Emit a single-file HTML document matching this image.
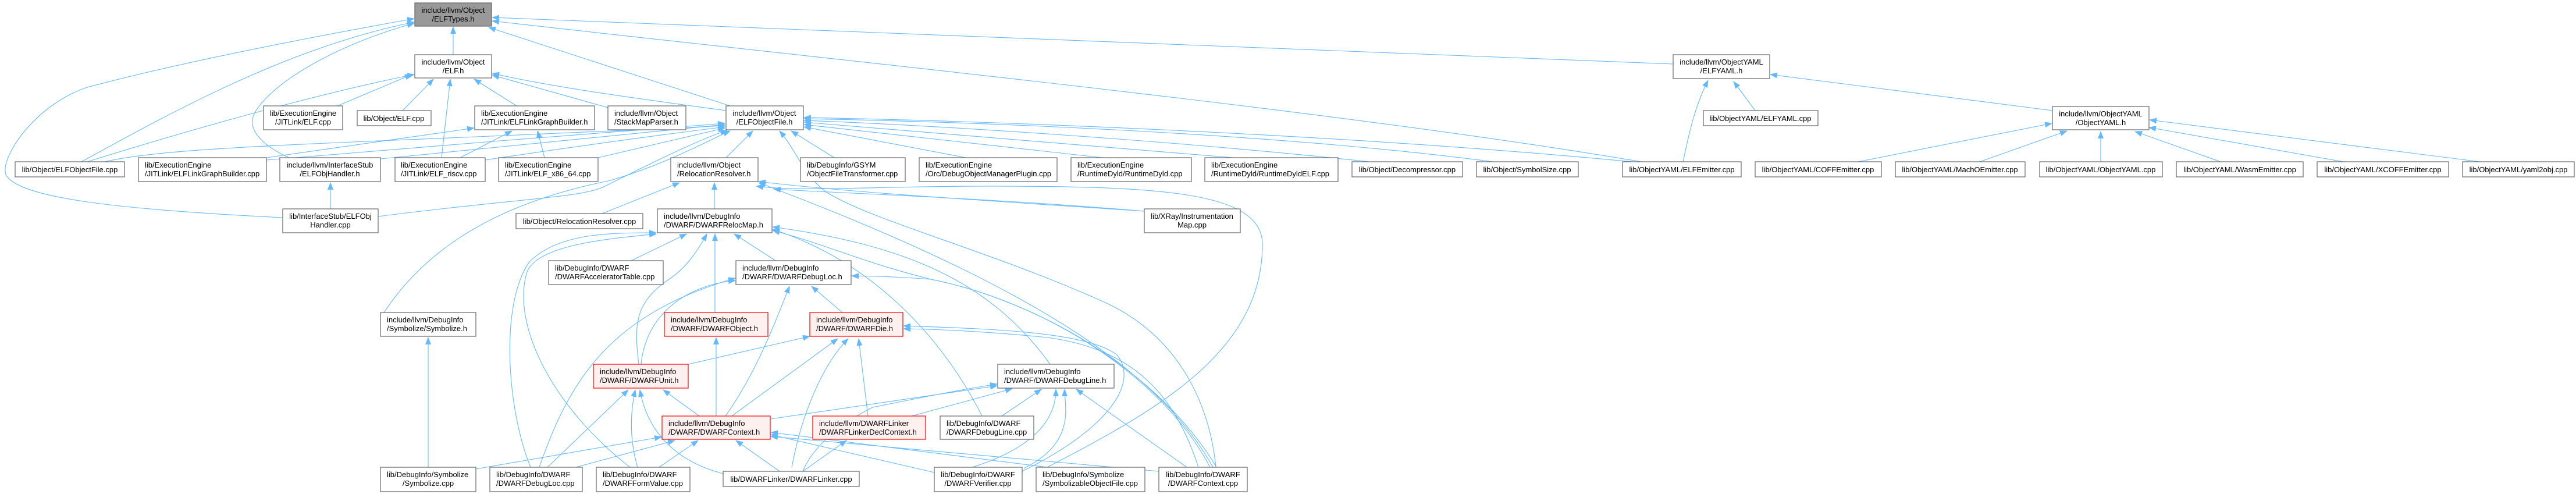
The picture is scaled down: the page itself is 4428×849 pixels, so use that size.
<!DOCTYPE html>
<html><head><meta charset="utf-8"><style>
html,body{margin:0;padding:0;background:#fff;}
svg{display:block;font-family:"Liberation Sans",Arial,sans-serif;font-size:13px;}
.n{fill:#fff;stroke:#666;stroke-width:1.2}
.r{fill:#fff0f0;stroke:#f00;stroke-width:1.2}
.g{fill:#999;stroke:#666;stroke-width:1.2}
.e{fill:none;stroke:#63b8ff;stroke-width:1.1;marker-end:url(#a)}
text{fill:#000}
</style></head><body>
<svg width="4428" height="849" viewBox="0 0 4428 849" xmlns="http://www.w3.org/2000/svg">
<defs><marker id="a" markerWidth="13" markerHeight="10" refX="12" refY="5" orient="auto" markerUnits="userSpaceOnUse"><path d="M0,0 L13,5 L0,10z" fill="#63b8ff"/></marker></defs>

<!-- edges to ELFTypes.h -->
<path class="e" d="M779,94 L779,46"/>
<path class="e" d="M140,278 C300,190 500,80 712,38"/>
<path class="e" d="M486,374 C200,360 30,340 10,300 C0,270 60,180 150,150 C300,110 500,70 712,32"/>
<path class="e" d="M497,271 C450,250 420,220 440,190 C480,130 600,70 712,40"/>
<path class="e" d="M1255,182 L840,47"/>
<path class="e" d="M2876,110 C2000,80 1300,50 846,30"/>
<path class="e" d="M2821,278 C2300,190 1500,110 846,36"/>

<!-- edges to ELF.h -->
<path class="e" d="M580,182 L708,128"/>
<path class="e" d="M692,190 L745,136"/>
<path class="e" d="M150,278 C400,200 600,150 712,128"/>
<path class="e" d="M759,271 L774,136"/>
<path class="e" d="M888,182 L815,136"/>
<path class="e" d="M1045,185 L846,129"/>
<path class="e" d="M1248,190 C1100,170 950,150 846,126"/>

<!-- edges to ELFLinkGraphBuilder.h -->
<path class="e" d="M458,271 L815,220"/>
<path class="e" d="M791,271 L880,225"/>
<path class="e" d="M936,271 L924,225"/>

<!-- edges to ELFObjectFile.h -->
<path class="e" d="M180,278 C300,250 600,247 1246,216"/>
<path class="e" d="M458,275 C700,255 1000,230 1246,212"/>
<path class="e" d="M654,273 C900,250 1100,230 1246,214"/>
<path class="e" d="M834,275 C1000,250 1150,230 1246,218"/>
<path class="e" d="M1028,271 L1246,220"/>
<path class="e" d="M650,372 C900,340 1000,340 1040,320 C1100,290 1200,240 1250,224"/>
<path class="e" d="M660,537 C750,400 900,340 1050,310 C1150,280 1220,240 1255,225"/>
<path class="e" d="M1248,271 L1294,225"/>
<path class="e" d="M1434,271 L1360,225"/>
<path class="e" d="M1660,271 L1382,218"/>
<path class="e" d="M1895,271 L1382,214"/>
<path class="e" d="M2120,271 L1382,210"/>
<path class="e" d="M2354,278 C2000,240 1600,215 1382,207"/>
<path class="e" d="M2566,278 C2200,230 1700,210 1382,204"/>
<path class="e" d="M2805,278 C2300,230 1700,208 1382,202"/>
<path class="e" d="M1967,363 C1700,340 1400,330 1330,325"/>
<path class="e" d="M1800,803 C2000,700 2170,600 2170,420 C2170,330 2000,320 1700,320 C1500,320 1380,330 1300,320"/>
<path class="e" d="M2090,803 C2080,700 2030,580 1900,520 C1700,430 1500,380 1420,330 C1380,300 1370,260 1340,225"/>

<!-- RelocationResolver.h -->
<path class="e" d="M1035,367 L1168,314"/>
<path class="e" d="M1228,359 L1228,314"/>
<path class="e" d="M1967,363 C1700,345 1450,330 1304,312"/>
<path class="e" d="M2085,803 C2000,650 1800,500 1304,314"/>

<!-- DWARFRelocMap.h -->
<path class="e" d="M1085,448 L1180,402"/>
<path class="e" d="M1333,448 L1262,402"/>
<path class="e" d="M1229,537 L1229,402"/>
<path class="e" d="M1098,626 C1090,560 1090,520 1150,480 C1180,460 1200,430 1215,402"/>
<path class="e" d="M912,803 C870,700 860,520 910,450 C960,400 1050,400 1128,400"/>
<path class="e" d="M1083,803 C950,700 880,560 905,470 C920,420 1050,410 1128,402"/>
<path class="e" d="M1805,626 C1700,480 1550,420 1328,390"/>
<path class="e" d="M1688,715 C1620,580 1500,450 1328,394"/>
<path class="e" d="M2091,803 C2000,650 1800,520 1600,480 C1480,450 1420,420 1328,396"/>

<!-- DWARFDebugLoc.h -->
<path class="e" d="M1102,626 C1110,540 1180,490 1264,482"/>
<path class="e" d="M927,803 C980,650 1050,540 1264,478"/>
<path class="e" d="M1247,715 C1300,640 1330,560 1357,492"/>
<path class="e" d="M1448,537 L1395,492"/>
<path class="e" d="M2080,803 C2000,650 1800,520 1600,480 C1540,475 1500,475 1464,474"/>

<!-- DWARFObject.h -->
<path class="e" d="M1231,715 L1231,580"/>

<!-- DWARFDie.h -->
<path class="e" d="M1183,626 L1392,578"/>
<path class="e" d="M1258,715 L1440,582"/>
<path class="e" d="M1361,803 C1380,700 1420,620 1458,582"/>
<path class="e" d="M1492,715 L1476,582"/>
<path class="e" d="M1757,810 C1900,740 1960,660 1920,610 C1870,570 1700,565 1553,560"/>
<path class="e" d="M2060,803 C2020,680 1950,600 1800,580 C1700,570 1620,566 1553,565"/>

<!-- DWARFUnit.h -->
<path class="e" d="M1202,715 L1140,670"/>
<path class="e" d="M941,803 L1080,670"/>
<path class="e" d="M1096,803 C1080,750 1085,700 1092,670"/>
<path class="e" d="M1243,814 C1150,790 1110,730 1100,670"/>

<!-- DWARFContext.h -->
<path class="e" d="M818,806 L1137,751"/>
<path class="e" d="M990,803 L1160,757"/>
<path class="e" d="M1133,803 L1200,757"/>
<path class="e" d="M1340,810 L1265,757"/>
<path class="e" d="M1606,812 L1325,747"/>
<path class="e" d="M1800,803 L1325,743"/>
<path class="e" d="M1992,810 L1325,750"/>

<!-- LinkerDeclContext -->
<path class="e" d="M1380,810 L1455,757"/>

<!-- DWARFDebugLine.h -->
<path class="e" d="M1325,720 L1714,663"/>
<path class="e" d="M1567,715 L1740,668"/>
<path class="e" d="M1722,715 L1790,669"/>
<path class="e" d="M1606,820 C1700,800 1815,760 1815,669"/>
<path class="e" d="M1760,805 C1850,760 1830,700 1830,669"/>
<path class="e" d="M2040,803 L1850,669"/>
<path class="e" d="M1380,810 C1400,760 1460,720 1500,700 C1600,680 1650,670 1714,660"/>

<!-- Symbolize, ELFObjHandler -->
<path class="e" d="M736,803 L736,580"/>
<path class="e" d="M568,359 L568,314"/>

<!-- YAML -->
<path class="e" d="M2893,278 C2905,220 2915,180 2936,138"/>
<path class="e" d="M3017,190 L2980,140"/>
<path class="e" d="M3528,190 L3043,128"/>
<path class="e" d="M3194,278 L3527,212"/>
<path class="e" d="M3403,278 L3553,225"/>
<path class="e" d="M3611,278 L3611,226"/>
<path class="e" d="M3817,278 L3670,226"/>
<path class="e" d="M4028,278 L3694,219"/>
<path class="e" d="M4263,278 L3695,206"/>

<!-- nodes -->
<g>
<rect class="g" x="713" y="5" width="132" height="40"/><text x="779" y="22" text-anchor="middle">include/llvm/Object</text><text x="779" y="37" text-anchor="middle">/ELFTypes.h</text>
<rect class="n" x="713" y="94" width="132" height="40"/><text x="779" y="111" text-anchor="middle">include/llvm/Object</text><text x="779" y="126" text-anchor="middle">/ELF.h</text>
<rect class="n" x="453" y="182" width="136" height="41"/><text x="521" y="199" text-anchor="middle">lib/ExecutionEngine</text><text x="521" y="214" text-anchor="middle">/JITLink/ELF.cpp</text>
<rect class="n" x="614" y="190" width="127" height="26"/><text x="677" y="208" text-anchor="middle">lib/Object/ELF.cpp</text>
<rect class="n" x="26" y="278" width="188" height="26"/><text x="120" y="296" text-anchor="middle">lib/Object/ELFObjectFile.cpp</text>
<rect class="n" x="238" y="271" width="220" height="41"/><text x="249" y="288">lib/ExecutionEngine</text><text x="249" y="303">/JITLink/ELFLinkGraphBuilder.cpp</text>
<rect class="n" x="481" y="271" width="173" height="41"/><text x="567" y="288" text-anchor="middle">include/llvm/InterfaceStub</text><text x="567" y="303" text-anchor="middle">/ELFObjHandler.h</text>
<rect class="n" x="679" y="271" width="155" height="41"/><text x="689" y="288">lib/ExecutionEngine</text><text x="689" y="303">/JITLink/ELF_riscv.cpp</text>
<rect class="n" x="486" y="359" width="164" height="41"/><text x="568" y="376" text-anchor="middle">lib/InterfaceStub/ELFObj</text><text x="568" y="391" text-anchor="middle">Handler.cpp</text>
<rect class="n" x="654" y="537" width="164" height="41"/><text x="665" y="554">include/llvm/DebugInfo</text><text x="665" y="569">/Symbolize/Symbolize.h</text>
<rect class="n" x="654" y="803" width="164" height="42"/><text x="665" y="820">lib/DebugInfo/Symbolize</text><text x="736" y="835" text-anchor="middle">/Symbolize.cpp</text>
<rect class="n" x="816" y="182" width="206" height="41"/><text x="827" y="199">lib/ExecutionEngine</text><text x="827" y="214">/JITLink/ELFLinkGraphBuilder.h</text>
<rect class="n" x="1045" y="182" width="134" height="41"/><text x="1056" y="199">include/llvm/Object</text><text x="1056" y="214">/StackMapParser.h</text>
<rect class="n" x="1248" y="182" width="133" height="41"/><text x="1314" y="199" text-anchor="middle">include/llvm/Object</text><text x="1314" y="214" text-anchor="middle">/ELFObjectFile.h</text>
<rect class="n" x="857" y="271" width="171" height="41"/><text x="868" y="288">lib/ExecutionEngine</text><text x="868" y="303">/JITLink/ELF_x86_64.cpp</text>
<rect class="n" x="1153" y="271" width="150" height="41"/><text x="1164" y="288">include/llvm/Object</text><text x="1164" y="303">/RelocationResolver.h</text>
<rect class="n" x="1376" y="271" width="180" height="41"/><text x="1387" y="288">lib/DebugInfo/GSYM</text><text x="1387" y="303">/ObjectFileTransformer.cpp</text>
<rect class="n" x="887" y="367" width="218" height="26"/><text x="996" y="385" text-anchor="middle">lib/Object/RelocationResolver.cpp</text>
<rect class="n" x="1130" y="359" width="197" height="41"/><text x="1141" y="376">include/llvm/DebugInfo</text><text x="1141" y="391">/DWARF/DWARFRelocMap.h</text>
<rect class="n" x="943" y="448" width="197" height="41"/><text x="954" y="465">lib/DebugInfo/DWARF</text><text x="954" y="480">/DWARFAcceleratorTable.cpp</text>
<rect class="n" x="1265" y="448" width="198" height="41"/><text x="1276" y="465">include/llvm/DebugInfo</text><text x="1276" y="480">/DWARF/DWARFDebugLoc.h</text>
<rect class="r" x="1142" y="537" width="178" height="41"/><text x="1153" y="554">include/llvm/DebugInfo</text><text x="1153" y="569">/DWARF/DWARFObject.h</text>
<rect class="r" x="1392" y="537" width="160" height="41"/><text x="1403" y="554">include/llvm/DebugInfo</text><text x="1403" y="569">/DWARF/DWARFDie.h</text>
<rect class="r" x="1020" y="626" width="163" height="41"/><text x="1031" y="643">include/llvm/DebugInfo</text><text x="1031" y="658">/DWARF/DWARFUnit.h</text>
<rect class="r" x="1138" y="715" width="186" height="40"/><text x="1149" y="732">include/llvm/DebugInfo</text><text x="1149" y="747">/DWARF/DWARFContext.h</text>
<rect class="r" x="1397" y="715" width="194" height="40"/><text x="1408" y="732">include/llvm/DWARFLinker</text><text x="1408" y="747">/DWARFLinkerDeclContext.h</text>
<rect class="n" x="842" y="803" width="159" height="42"/><text x="853" y="820">lib/DebugInfo/DWARF</text><text x="853" y="835">/DWARFDebugLoc.cpp</text>
<rect class="n" x="1025" y="803" width="161" height="42"/><text x="1036" y="820">lib/DebugInfo/DWARF</text><text x="1036" y="835">/DWARFFormValue.cpp</text>
<rect class="n" x="1243" y="810" width="234" height="26"/><text x="1360" y="828" text-anchor="middle">lib/DWARFLinker/DWARFLinker.cpp</text>
<rect class="n" x="1580" y="271" width="237" height="41"/><text x="1591" y="288">lib/ExecutionEngine</text><text x="1591" y="303">/Orc/DebugObjectManagerPlugin.cpp</text>
<rect class="n" x="1841" y="271" width="207" height="41"/><text x="1852" y="288">lib/ExecutionEngine</text><text x="1852" y="303">/RuntimeDyld/RuntimeDyld.cpp</text>
<rect class="n" x="2071" y="271" width="229" height="41"/><text x="2082" y="288">lib/ExecutionEngine</text><text x="2082" y="303">/RuntimeDyld/RuntimeDyldELF.cpp</text>
<rect class="n" x="1967" y="359" width="165" height="41"/><text x="2049" y="376" text-anchor="middle">lib/XRay/Instrumentation</text><text x="2049" y="391" text-anchor="middle">Map.cpp</text>
<rect class="n" x="1715" y="626" width="200" height="41"/><text x="1726" y="643">include/llvm/DebugInfo</text><text x="1726" y="658">/DWARF/DWARFDebugLine.h</text>
<rect class="n" x="1616" y="715" width="161" height="40"/><text x="1627" y="732">lib/DebugInfo/DWARF</text><text x="1627" y="747">/DWARFDebugLine.cpp</text>
<rect class="n" x="1606" y="803" width="151" height="42"/><text x="1681" y="820" text-anchor="middle">lib/DebugInfo/DWARF</text><text x="1681" y="835" text-anchor="middle">/DWARFVerifier.cpp</text>
<rect class="n" x="1781" y="803" width="187" height="42"/><text x="1792" y="820">lib/DebugInfo/Symbolize</text><text x="1792" y="835">/SymbolizableObjectFile.cpp</text>
<rect class="n" x="1992" y="803" width="152" height="42"/><text x="2068" y="820" text-anchor="middle">lib/DebugInfo/DWARF</text><text x="2068" y="835" text-anchor="middle">/DWARFContext.cpp</text>
<rect class="n" x="2324" y="278" width="190" height="26"/><text x="2419" y="296" text-anchor="middle">lib/Object/Decompressor.cpp</text>
<rect class="n" x="2538" y="278" width="175" height="26"/><text x="2625" y="296" text-anchor="middle">lib/Object/SymbolSize.cpp</text>
<rect class="n" x="2789" y="278" width="204" height="26"/><text x="2891" y="296" text-anchor="middle">lib/ObjectYAML/ELFEmitter.cpp</text>
<rect class="n" x="3017" y="278" width="217" height="26"/><text x="3125" y="296" text-anchor="middle">lib/ObjectYAML/COFFEmitter.cpp</text>
<rect class="n" x="3258" y="278" width="223" height="26"/><text x="3369" y="296" text-anchor="middle">lib/ObjectYAML/MachOEmitter.cpp</text>
<rect class="n" x="3506" y="278" width="211" height="26"/><text x="3611" y="296" text-anchor="middle">lib/ObjectYAML/ObjectYAML.cpp</text>
<rect class="n" x="3741" y="278" width="218" height="26"/><text x="3850" y="296" text-anchor="middle">lib/ObjectYAML/WasmEmitter.cpp</text>
<rect class="n" x="3983" y="278" width="226" height="26"/><text x="4096" y="296" text-anchor="middle">lib/ObjectYAML/XCOFFEmitter.cpp</text>
<rect class="n" x="4233" y="278" width="192" height="26"/><text x="4329" y="296" text-anchor="middle">lib/ObjectYAML/yaml2obj.cpp</text>
<rect class="n" x="2876" y="94" width="166" height="41"/><text x="2959" y="111" text-anchor="middle">include/llvm/ObjectYAML</text><text x="2959" y="126" text-anchor="middle">/ELFYAML.h</text>
<rect class="n" x="3528" y="183" width="166" height="40"/><text x="3611" y="200" text-anchor="middle">include/llvm/ObjectYAML</text><text x="3611" y="215" text-anchor="middle">/ObjectYAML.h</text>
<rect class="n" x="2928" y="190" width="197" height="26"/><text x="3026" y="208" text-anchor="middle">lib/ObjectYAML/ELFYAML.cpp</text>
</g>
</svg>
</body></html>
